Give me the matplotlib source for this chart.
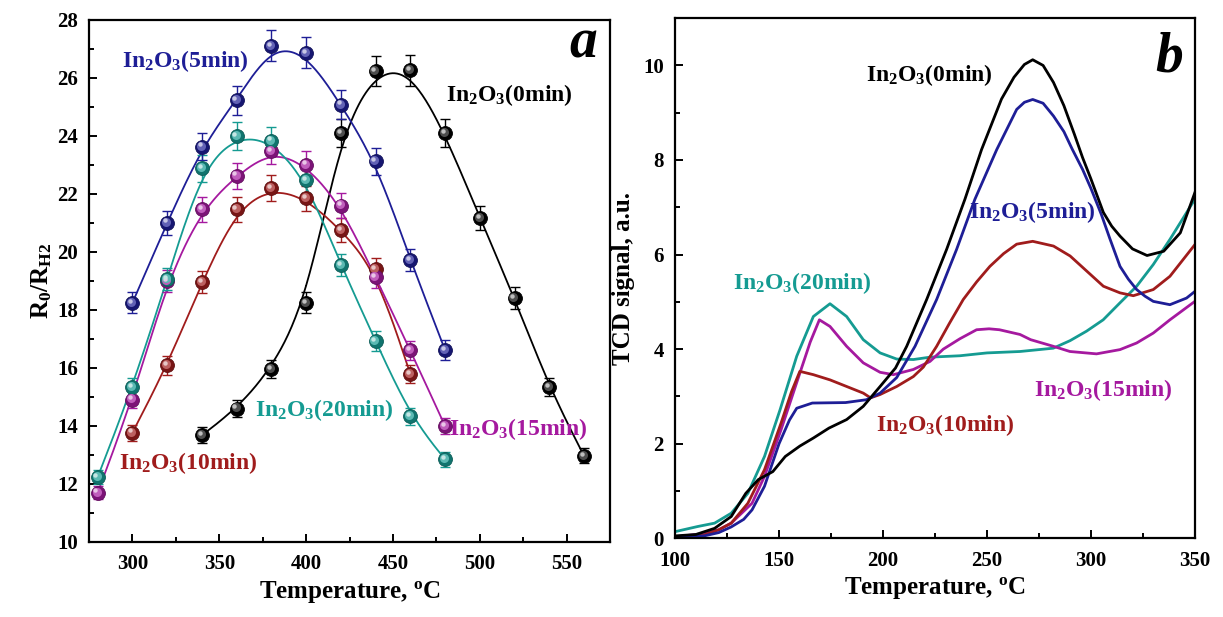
import numpy as np
import matplotlib
matplotlib.use("Agg")
import matplotlib.pyplot as plt
from matplotlib.ticker import MultipleLocator
from matplotlib.transforms import offset_copy
from matplotlib.colors import to_rgb

plt.rcParams['font.family'] = 'Liberation Serif'
plt.rcParams['font.weight'] = 'bold'
plt.rcParams['mathtext.fontset'] = 'custom'
plt.rcParams['mathtext.rm'] = 'Liberation Serif:bold'
plt.rcParams['mathtext.bf'] = 'Liberation Serif:bold'
plt.rcParams['mathtext.it'] = 'Liberation Serif:bold:italic'

C_BLACK = '#000000'
C_BLUE = '#1E1E96'
C_RED = '#A01C1C'
C_MAG = '#A5199F'
C_CYAN = '#159B92'

# ---- panel a: sensor response R0/RH2 vs temperature ----
t_0min = [340, 360, 380, 400, 420, 440, 460, 480, 500, 520, 540, 560]
r_0min = [13.68, 14.60, 15.96, 18.25, 24.09, 26.24, 26.27, 24.09, 21.18, 18.41, 15.33, 12.97]
e_0min = [0.27, 0.29, 0.32, 0.37, 0.48, 0.52, 0.53, 0.48, 0.42, 0.37, 0.31, 0.26]

t_5min = [300, 320, 340, 360, 380, 400, 420, 440, 460, 480]
r_5min = [18.25, 21.01, 23.63, 25.24, 27.11, 26.87, 25.08, 23.13, 19.72, 16.62]
e_5min = [0.37, 0.42, 0.47, 0.50, 0.54, 0.54, 0.50, 0.46, 0.39, 0.33]

t_10min = [300, 320, 340, 360, 380, 400, 420, 440, 460]
r_10min = [13.77, 16.09, 18.95, 21.48, 22.20, 21.85, 20.76, 19.40, 15.79]
e_10min = [0.28, 0.32, 0.38, 0.43, 0.44, 0.44, 0.42, 0.39, 0.32]

t_15min = [280, 300, 320, 340, 360, 380, 400, 420, 440, 460, 480]
r_15min = [11.70, 14.91, 19.00, 21.47, 22.63, 23.49, 23.01, 21.60, 19.13, 16.61, 14.00]
e_15min = [0.23, 0.30, 0.38, 0.43, 0.45, 0.47, 0.46, 0.43, 0.38, 0.33, 0.28]

t_20min = [280, 300, 320, 340, 360, 380, 400, 420, 440, 460, 480]
r_20min = [12.24, 15.33, 19.06, 22.89, 24.00, 23.84, 22.48, 19.55, 16.93, 14.34, 12.85]
e_20min = [0.24, 0.31, 0.38, 0.46, 0.48, 0.48, 0.45, 0.39, 0.34, 0.29, 0.26]

# ---- panel b: TPR curves ----
tb_0min = [100, 110, 119, 127, 134, 140, 147, 153, 160, 166.5, 174, 182.5, 190.5, 198.6, 206,
           211.4, 221, 230.6, 239.4, 247.4, 257, 263, 268, 272, 277, 282, 287, 292, 296, 300,
           306, 310, 314, 320, 327, 335, 343, 350]
sb_0min = [0.05, 0.08, 0.21, 0.46, 0.95, 1.24, 1.41, 1.73, 1.95, 2.12, 2.33, 2.51, 2.79, 3.21,
           3.60, 4.06, 5.05, 6.11, 7.17, 8.22, 9.29, 9.75, 10.02, 10.12, 10.00, 9.64, 9.15,
           8.55, 8.05, 7.60, 6.89, 6.60, 6.39, 6.12, 5.98, 6.07, 6.46, 7.31]

tb_5min = [100, 114, 121, 127, 133, 137, 143, 150, 155, 158.5, 166, 182, 192, 198.6, 206.6,
           215.4, 225.8, 235.4, 244.2, 254.7, 264.3, 268, 272, 277, 282, 287, 291, 296, 300,
           305, 309, 314, 318, 322, 326, 330, 338, 346, 350]
sb_5min = [0.03, 0.05, 0.12, 0.24, 0.40, 0.60, 1.10, 2.00, 2.50, 2.75, 2.86, 2.87, 2.93, 3.07,
           3.40, 4.06, 5.05, 6.11, 7.17, 8.22, 9.07, 9.22, 9.28, 9.20, 8.93, 8.60, 8.23, 7.80,
           7.40, 6.85, 6.35, 5.75, 5.48, 5.26, 5.12, 5.01, 4.94, 5.08, 5.22]

tb_10min = [100, 114, 121, 127, 135, 143, 151, 156, 160, 166.5, 174.5, 182.5, 190.5, 194,
            198.6, 206.6, 214.6, 219.4, 225.8, 232, 238.6, 245, 251.4, 258, 264.3, 272, 282,
            290, 298, 306, 314, 320.4, 330, 338, 350]
sb_10min = [0.00, 0.07, 0.18, 0.32, 0.74, 1.45, 2.44, 3.10, 3.53, 3.46, 3.35, 3.21, 3.07, 2.97,
            3.04, 3.21, 3.42, 3.62, 4.06, 4.55, 5.05, 5.42, 5.75, 6.02, 6.22, 6.28, 6.18, 5.97,
            5.65, 5.33, 5.19, 5.13, 5.26, 5.54, 6.21]

tb_15min = [100, 114, 121, 127, 137, 143, 151, 159, 165, 169.4, 174.5, 182.5, 190.5, 198.6,
            205, 214.6, 222.6, 229, 237, 245, 251, 256, 265.9, 271, 281.9, 289.9, 302.7, 314,
            322, 330, 338, 350]
sb_15min = [0.03, 0.10, 0.18, 0.32, 0.74, 1.31, 2.30, 3.36, 4.15, 4.62, 4.48, 4.06, 3.71, 3.51,
            3.46, 3.57, 3.74, 4.00, 4.22, 4.41, 4.43, 4.41, 4.31, 4.20, 4.06, 3.95, 3.90, 3.99,
            4.13, 4.34, 4.62, 5.01]

tb_20min = [100, 111, 119, 127, 135, 143, 150.5, 158.5, 166.5, 174.5, 182.5, 190.5, 198.6,
            206.6, 214.6, 222.6, 237, 250, 265.9, 281.9, 290, 297.9, 305.9, 314, 322, 330, 338,
            350]
sb_20min = [0.14, 0.25, 0.32, 0.53, 0.95, 1.73, 2.72, 3.85, 4.69, 4.96, 4.69, 4.20, 3.92, 3.79,
            3.78, 3.83, 3.86, 3.92, 3.95, 4.02, 4.18, 4.38, 4.62, 4.98, 5.33, 5.79, 6.32, 7.17]


def bspline(xs, ys, n=30):
    """Clamped uniform cubic B-spline using the data points as control points"""
    px = np.r_[xs[0], xs[0], xs, xs[-1], xs[-1]].astype(float)
    py = np.r_[ys[0], ys[0], ys, ys[-1], ys[-1]].astype(float)
    t = np.linspace(0, 1, n)
    b = np.vstack([(1 - t) ** 3 / 6,
                   (3 * t ** 3 - 6 * t ** 2 + 4) / 6,
                   (-3 * t ** 3 + 3 * t ** 2 + 3 * t + 1) / 6,
                   t ** 3 / 6])
    cx, cy = [], []
    for i in range(len(px) - 3):
        cx.append(px[i:i + 4] @ b)
        cy.append(py[i:i + 4] @ b)
    return np.concatenate(cx), np.concatenate(cy)


def mix(color, other, f):
    c = np.array(to_rgb(color))
    o = np.array(to_rgb(other))
    return tuple(c * (1 - f) + o * f)


def sphere_series(ax, x, y, err, color):
    fx, fy = bspline(np.array(x), np.array(y))
    ax.plot(fx, fy, color=color, lw=1.3, zorder=2)
    ax.errorbar(x, y, yerr=err, fmt='none', ecolor=color, elinewidth=1.0,
                capsize=3.5, capthick=1.0, zorder=3)
    fig = ax.figure
    ax.plot(x, y, 'o', ms=10, mfc=mix(color, 'black', 0.25), mec=mix(color, 'black', 0.4),
            mew=0.6, zorder=4)
    tr1 = offset_copy(ax.transData, fig=fig, x=-0.8, y=0.8, units='points')
    ax.plot(x, y, 'o', ms=6.5, mfc=mix(color, 'white', 0.3), mec='none', transform=tr1, zorder=5)
    tr2 = offset_copy(ax.transData, fig=fig, x=-1.6, y=1.6, units='points')
    ax.plot(x, y, 'o', ms=3.2, mfc=mix(color, 'white', 0.75), mec='none', transform=tr2, zorder=6)


def style_axes(ax):
    for sp in ax.spines.values():
        sp.set_linewidth(1.6)
    ax.tick_params(which='both', direction='in', top=False, right=False, width=1.4,
                   labelsize=15)
    ax.tick_params(axis='x', pad=9)
    ax.tick_params(axis='y', pad=8)
    ax.tick_params(which='major', length=6)
    ax.tick_params(which='minor', length=3.5)
    for lab in ax.get_xticklabels() + ax.get_yticklabels():
        lab.set_fontweight('bold')


fig = plt.figure(figsize=(12.23, 6.17), dpi=100)
ax1 = fig.add_axes([0.0728, 0.1216, 0.426, 0.846])
ax2 = fig.add_axes([0.552, 0.1276, 0.425, 0.843])

# panel a
sphere_series(ax1, t_0min, r_0min, e_0min, C_BLACK)
sphere_series(ax1, t_10min, r_10min, e_10min, C_RED)
sphere_series(ax1, t_15min, r_15min, e_15min, C_MAG)
sphere_series(ax1, t_20min, r_20min, e_20min, C_CYAN)
sphere_series(ax1, t_5min, r_5min, e_5min, C_BLUE)

ax1.set_xlim(275, 575)
ax1.set_ylim(10, 28)
ax1.xaxis.set_major_locator(MultipleLocator(50))
ax1.xaxis.set_minor_locator(MultipleLocator(25))
ax1.yaxis.set_major_locator(MultipleLocator(2))
ax1.yaxis.set_minor_locator(MultipleLocator(1))
ax1.set_xticks([300, 350, 400, 450, 500, 550])
style_axes(ax1)
ax1.set_xlabel(r'Temperature, $^\mathbf{o}$C', fontsize=18, fontweight='bold', labelpad=3)
ax1.set_ylabel(r'R$_\mathbf{0}$/R$_\mathbf{H2}$', fontsize=18, fontweight='bold', labelpad=2)

lab_kw = dict(fontsize=17, fontweight='bold', ha='left', va='center')
ax1.text(294, 26.6, r'In$_\mathbf{2}$O$_\mathbf{3}$(5min)', color=C_BLUE, **lab_kw)
ax1.text(480.5, 25.4, r'In$_\mathbf{2}$O$_\mathbf{3}$(0min)', color=C_BLACK, **lab_kw)
ax1.text(370.5, 14.55, r'In$_\mathbf{2}$O$_\mathbf{3}$(20min)', color=C_CYAN, **lab_kw)
ax1.text(482.5, 13.88, r'In$_\mathbf{2}$O$_\mathbf{3}$(15min)', color=C_MAG, **lab_kw)
ax1.text(292, 12.73, r'In$_\mathbf{2}$O$_\mathbf{3}$(10min)', color=C_RED, **lab_kw)
ax1.text(0.948, 0.955, 'a', transform=ax1.transAxes, fontsize=40, fontweight='bold',
         fontstyle='italic', ha='center', va='center')

# panel b
ax2.plot(tb_20min, sb_20min, color=C_CYAN, lw=2.0)
ax2.plot(tb_15min, sb_15min, color=C_MAG, lw=2.0)
ax2.plot(tb_10min, sb_10min, color=C_RED, lw=2.0)
ax2.plot(tb_5min, sb_5min, color=C_BLUE, lw=2.0)
ax2.plot(tb_0min, sb_0min, color=C_BLACK, lw=2.0)

ax2.set_xlim(100, 350)
ax2.set_ylim(0, 11)
ax2.xaxis.set_major_locator(MultipleLocator(50))
ax2.xaxis.set_minor_locator(MultipleLocator(25))
ax2.yaxis.set_major_locator(MultipleLocator(2))
ax2.yaxis.set_minor_locator(MultipleLocator(1))
ax2.set_yticks([0, 2, 4, 6, 8, 10])
style_axes(ax2)
ax2.set_xlabel(r'Temperature, $^\mathbf{o}$C', fontsize=18, fontweight='bold', labelpad=3)
ax2.set_ylabel('TCD signal, a.u.', fontsize=18, fontweight='bold', labelpad=6)

ax2.text(192, 9.8, r'In$_\mathbf{2}$O$_\mathbf{3}$(0min)', color=C_BLACK, **lab_kw)
ax2.text(241.5, 6.9, r'In$_\mathbf{2}$O$_\mathbf{3}$(5min)', color=C_BLUE, **lab_kw)
ax2.text(128, 5.4, r'In$_\mathbf{2}$O$_\mathbf{3}$(20min)', color=C_CYAN, **lab_kw)
ax2.text(272.5, 3.14, r'In$_\mathbf{2}$O$_\mathbf{3}$(15min)', color=C_MAG, **lab_kw)
ax2.text(196.5, 2.4, r'In$_\mathbf{2}$O$_\mathbf{3}$(10min)', color=C_RED, **lab_kw)
ax2.text(0.95, 0.924, 'b', transform=ax2.transAxes, fontsize=40, fontweight='bold',
         fontstyle='italic', ha='center', va='center')

fig.savefig('out.png', dpi=100, facecolor='white')
